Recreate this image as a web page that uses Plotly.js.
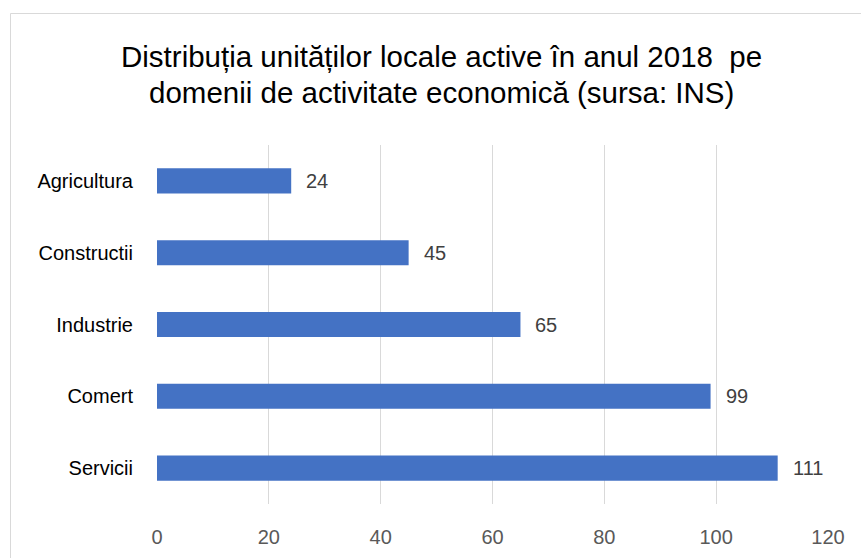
<!DOCTYPE html>
<html>
<head>
<meta charset="utf-8">
<script src="https://cdn.plot.ly/plotly-3.0.1.min.js"></script>
<style>html,body{margin:0;padding:0;background:#fff}#chart{width:861px;height:558px}</style>
</head>
<body>
<div id="chart"></div>
<script>
const categories = ["Agricultura", "Constructii", "Industrie", "Comert", "Servicii"];
const values = [24, 45, 65, 99, 111];
const xTicks = [0, 20, 40, 60, 80, 100, 120];
const titleLines = ["Distribuția unităților locale active în anul 2018  pe", "domenii de activitate economică (sursa: INS)"];

const FONT = "'Liberation Sans', Arial, sans-serif";
const plotL = 157, plotR = 828, plotT = 145, plotB = 504, W = 861, H = 558;
const pw = plotR - plotL, ph = plotB - plotT;

const trace = {
  type: 'bar',
  orientation: 'h',
  x: values,
  y: categories,
  marker: {color: '#4472C4'},
  hoverinfo: 'x+y'
};

const annotations = values.map((v, i) => ({
  x: v, y: categories[i], xref: 'x', yref: 'y',
  text: String(v), showarrow: false, xanchor: 'left', yanchor: 'middle',
  xshift: 13, font: {family: FONT, size: 20, color: '#404040'}
}));
titleLines.forEach((t, i) => {
  annotations.push({
    x: (441 - plotL) / pw, y: (plotB - [57, 92][i]) / ph, xref: 'paper', yref: 'paper',
    text: t, showarrow: false, xanchor: 'center', yanchor: 'middle',
    font: {family: FONT, size: 29.5, color: '#000000'}
  });
});

const layout = {
  width: W, height: H,
  margin: {l: plotL, r: W - plotR, t: plotT, b: H - plotB, pad: 0},
  paper_bgcolor: '#ffffff', plot_bgcolor: '#ffffff',
  showlegend: false,
  bargap: 0.65,
  font: {family: FONT},
  xaxis: {
    range: [0, 120], tickvals: xTicks, ticktext: xTicks.map(String),
    showgrid: true, gridcolor: '#d9d9d9', gridwidth: 1, zeroline: false,
    showline: false, ticks: 'outside', ticklen: 15, tickcolor: 'rgba(0,0,0,0)',
    tickfont: {family: FONT, size: 20, color: '#595959'}, fixedrange: true
  },
  yaxis: {
    autorange: 'reversed', type: 'category',
    showgrid: false, zeroline: false, showline: false,
    ticks: 'outside', ticklen: 19, tickcolor: 'rgba(0,0,0,0)',
    tickfont: {family: FONT, size: 20, color: '#000000'}, fixedrange: true
  },
  annotations: annotations,
  shapes: [{
    type: 'rect', xref: 'paper', yref: 'paper', layer: 'below',
    x0: (10.5 - plotL) / pw, x1: (W + 5 - plotL) / pw,
    y0: (plotB - (H + 5)) / ph, y1: (plotB - 13.5) / ph,
    line: {color: '#d9d9d9', width: 1}, fillcolor: 'rgba(0,0,0,0)'
  }]
};

Plotly.newPlot('chart', [trace], layout, {displayModeBar: false, staticPlot: true});
</script>
</body>
</html>
